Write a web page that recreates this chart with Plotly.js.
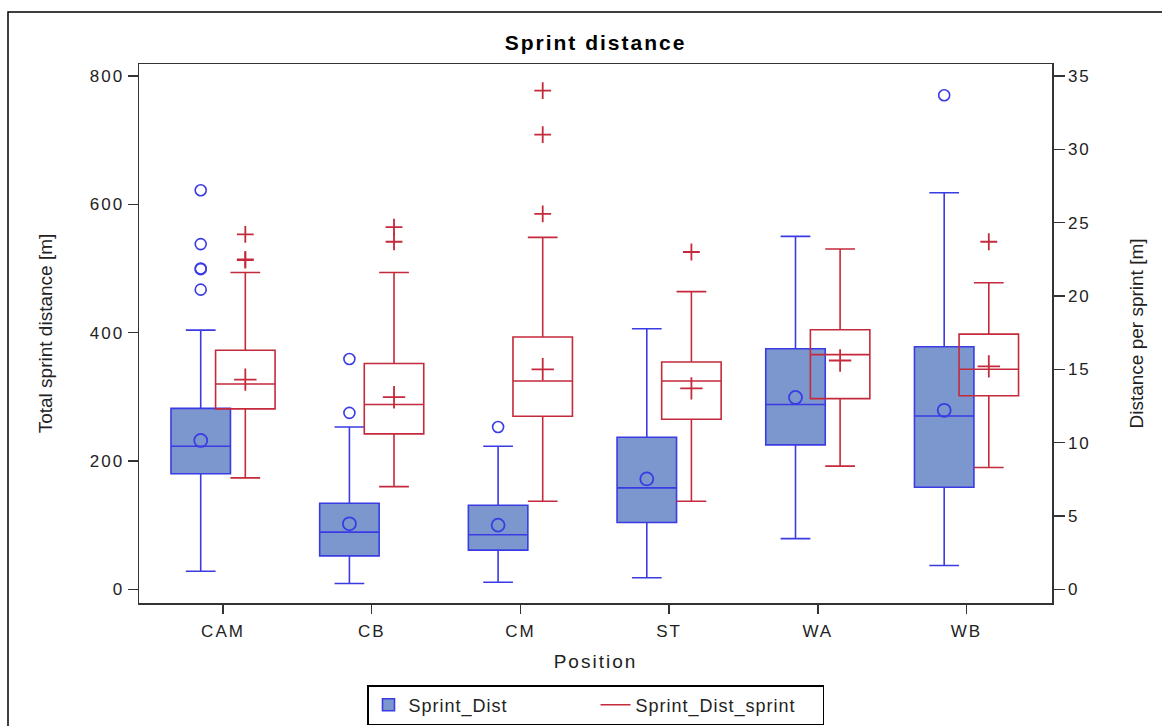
<!DOCTYPE html>
<html>
<head>
<meta charset="utf-8">
<script src="https://cdn.plot.ly/plotly-3.0.1.min.js"></script>
<style>
html,body{margin:0;padding:0;background:#fff;}
#chart text{letter-spacing:2px;}
#chart .ytitle, #chart .y2title{letter-spacing:0;}
#chart .legendtext{letter-spacing:1px;}
</style>
</head>
<body>
<div id="chart" style="width:1162px;height:726px;"></div>
<script>
// ---- Data ----
const positions = ["CAM", "CB", "CM", "ST", "WA", "WB"];

// Sprint_Dist (left axis, total sprint distance [m])
const distLower  = [28, 9, 11, 18, 79, 37];
const distQ1     = [180, 52, 61, 104, 225, 159];
const distMedian = [223, 89, 85, 158, 288, 270];
const distMean   = [232, 102, 100, 172, 299, 279];
const distQ3     = [282, 134, 131, 237, 375, 378];
const distUpper  = [404, 253, 223, 406, 550, 618];
const distOutliers = [[622, 538, 500, 499, 467], [359, 275], [253], [], [], [770]];

// Sprint_Dist_sprint (right axis, distance per sprint [m])
const perLower  = [7.6, 7.0, 6.0, 6.0, 8.4, 8.3];
const perQ1     = [12.3, 10.6, 11.8, 11.6, 13.0, 13.2];
const perMedian = [14.0, 12.6, 14.2, 14.2, 16.0, 15.0];
const perMean   = [14.3, 13.1, 15.0, 13.7, 15.6, 15.2];
const perQ3     = [16.3, 15.4, 17.2, 15.5, 17.7, 17.4];
const perUpper  = [21.6, 21.6, 24.0, 20.3, 23.2, 20.9];
const perOutliers = [[24.2, 22.5, 22.45], [24.7, 23.7], [34.0, 31.0, 25.6], [23.0], [], [23.7]];

// ---- Styles ----
const blueLine = '#3b3be4';
const blueFill = '#7b97cd';
const redLine = '#c42a3c';
const offset = 0.15;
const idx = positions.map((p, i) => i);
const xBlue = idx.map(i => i - offset);
const xRed = idx.map(i => i + offset);

function flattenOutliers(arr, shift) {
  const xs = [], ys = [];
  arr.forEach((vals, i) => vals.forEach(v => { xs.push(i + shift); ys.push(v); }));
  return {xs, ys};
}
const bo = flattenOutliers(distOutliers, -offset);
const ro = flattenOutliers(perOutliers, offset);

const traces = [
  {
    type: 'box', name: 'Sprint_Dist', x: xBlue,
    q1: distQ1, median: distMedian, q3: distQ3,
    lowerfence: distLower, upperfence: distUpper,
    boxpoints: false, width: 0.4, whiskerwidth: 0.5,
    fillcolor: blueFill, line: {color: blueLine, width: 1.6},
    yaxis: 'y', showlegend: true, hoverinfo: 'skip'
  },
  {
    type: 'box', name: 'Sprint_Dist_sprint', x: xRed,
    q1: perQ1, median: perMedian, q3: perQ3,
    lowerfence: perLower, upperfence: perUpper,
    boxpoints: false, width: 0.4, whiskerwidth: 0.5,
    fillcolor: 'rgba(255,255,255,0)', line: {color: redLine, width: 1.6},
    yaxis: 'y2', showlegend: false, hoverinfo: 'skip'
  },
  {
    type: 'scatter', mode: 'markers', x: xBlue, y: distMean, yaxis: 'y',
    marker: {symbol: 'circle-open', size: 13, color: blueLine, line: {width: 1.8, color: blueLine}},
    showlegend: false, hoverinfo: 'skip'
  },
  {
    type: 'scatter', mode: 'markers', x: bo.xs, y: bo.ys, yaxis: 'y',
    marker: {symbol: 'circle-open', size: 11, color: blueLine, line: {width: 1.6, color: blueLine}},
    showlegend: false, hoverinfo: 'skip'
  },
  {
    type: 'scatter', mode: 'markers', x: xRed, y: perMean, yaxis: 'y2',
    marker: {symbol: 'cross-thin-open', size: 16, color: redLine, line: {width: 1.8, color: redLine}},
    showlegend: false, hoverinfo: 'skip'
  },
  {
    type: 'scatter', mode: 'markers', x: ro.xs, y: ro.ys, yaxis: 'y2',
    marker: {symbol: 'cross-thin-open', size: 12, color: redLine, line: {width: 1.8, color: redLine}},
    showlegend: false, hoverinfo: 'skip'
  },
  {
    type: 'scatter', mode: 'lines', name: 'Sprint_Dist_sprint', x: [null], y: [null], yaxis: 'y2',
    line: {color: redLine, width: 1.6}, showlegend: true, hoverinfo: 'skip'
  }
];

const fam = 'Liberation Sans, Arial, sans-serif';
const tickFont = {family: fam, size: 17, color: '#222'};
const titleFont = {family: fam, size: 19, color: '#222'};

const layout = {
  width: 1162, height: 726,
  margin: {l: 139, r: 110, t: 64, b: 123, autoexpand: false},
  paper_bgcolor: '#ffffff', plot_bgcolor: '#ffffff',
  showlegend: true,
  title: {
    text: 'Sprint distance',
    font: {family: fam, size: 21, weight: 'bold', color: '#000'},
    x: 0.5, xref: 'paper', xanchor: 'center',
    y: 1 - 43 / 726, yref: 'container', yanchor: 'middle'
  },
  xaxis: {
    range: [-0.565, 5.575], tickvals: idx, ticktext: positions,
    showline: true, linecolor: '#333', linewidth: 1.5, mirror: true,
    ticks: 'outside', ticklen: 9, tickcolor: '#333', tickwidth: 1.5,
    ticklabelstandoff: 3,
    showgrid: false, zeroline: false, tickfont: tickFont, automargin: false,
    title: {text: 'Position', font: titleFont, standoff: 15}
  },
  yaxis: {
    range: [-21.4, 818.75], tickvals: [0, 200, 400, 600, 800],
    showline: true, linecolor: '#333', linewidth: 1.5,
    ticks: 'outside', ticklen: 10, tickcolor: '#333', tickwidth: 1.5,
    showgrid: false, zeroline: false, tickfont: tickFont, automargin: false,
    title: {text: 'Total sprint distance [m]', font: titleFont, standoff: 38}
  },
  yaxis2: {
    range: [-0.935, 35.82], tickvals: [0, 5, 10, 15, 20, 25, 30, 35],
    overlaying: 'y', side: 'right',
    showline: true, linecolor: '#333', linewidth: 1.5,
    ticks: 'outside', ticklen: 11, tickcolor: '#333', tickwidth: 1.5,
    showgrid: false, zeroline: false, tickfont: tickFont, automargin: false,
    title: {text: 'Distance per sprint [m]', font: titleFont, standoff: 44}
  },
  legend: {
    orientation: 'h', x: 0.5, xanchor: 'center', y: (603 - 685) / 539, yanchor: 'top',
    bordercolor: '#000', borderwidth: 1.5, bgcolor: '#fff',
    font: {family: fam, size: 18, color: '#222'},
    itemwidth: 30, entrywidth: 182, entrywidthmode: 'pixels'
  },
  shapes: [{
    type: 'rect', xref: 'paper', yref: 'paper',
    x0: (8 - 139) / 913, x1: (1175 - 139) / 913,
    y0: (603 - 740) / 539, y1: (603 - 12) / 539,
    line: {color: '#000', width: 1.5}, fillcolor: 'rgba(0,0,0,0)', layer: 'below'
  }]
};

Plotly.newPlot('chart', traces, layout, {displayModeBar: false, staticPlot: true});
</script>
</body>
</html>
